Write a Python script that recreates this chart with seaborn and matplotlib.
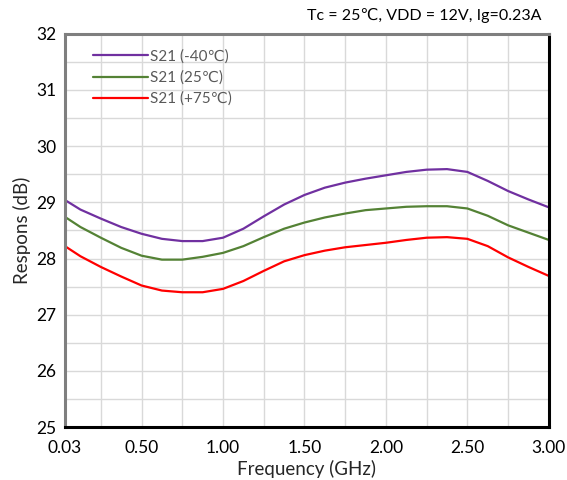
import matplotlib
matplotlib.use("Agg")
import matplotlib.pyplot as plt
from matplotlib.ticker import FixedLocator, NullFormatter
import seaborn as sns
import pandas as pd

freq = [0.03, 0.125, 0.25, 0.375, 0.5, 0.625, 0.75, 0.875, 1.0, 1.125, 1.25,
        1.375, 1.5, 1.625, 1.75, 1.875, 2.0, 2.125, 2.25, 2.375, 2.5, 2.625,
        2.75, 2.875, 3.0]
s21_m40 = [29.04, 28.87, 28.71, 28.56, 28.44, 28.35, 28.31, 28.31, 28.37, 28.53,
           28.75, 28.96, 29.13, 29.26, 29.35, 29.42, 29.48, 29.54, 29.58, 29.59,
           29.54, 29.38, 29.20, 29.05, 28.91]
s21_25 = [28.74, 28.56, 28.37, 28.19, 28.05, 27.98, 27.98, 28.03, 28.10, 28.22,
          28.38, 28.53, 28.64, 28.73, 28.80, 28.86, 28.89, 28.92, 28.93, 28.93,
          28.89, 28.76, 28.59, 28.46, 28.33]
s21_75 = [28.22, 28.04, 27.85, 27.68, 27.52, 27.43, 27.40, 27.40, 27.46, 27.60,
          27.78, 27.95, 28.06, 28.14, 28.20, 28.24, 28.28, 28.33, 28.37, 28.38,
          28.35, 28.22, 28.02, 27.85, 27.69]
series_names = ["S21 (-40℃)", "S21 (25℃)", "S21 (+75℃)"]
colors = ["#7030A0", "#548235", "#FF0000"]
x_ticks = [0.03, 0.5, 1.0, 1.5, 2.0, 2.5, 3.0]
x_tick_labels = ["0.03", "0.50", "1.00", "1.50", "2.00", "2.50", "3.00"]
y_ticks = [25, 26, 27, 28, 29, 30, 31, 32]

df = pd.concat([
    pd.DataFrame({"freq": freq, "val": v, "series": n})
    for v, n in zip([s21_m40, s21_25, s21_75], series_names)
])

sns.set_theme(style="white")
plt.rcParams["font.family"] = ["Lato", "DejaVu Sans"]

fig = plt.figure(figsize=(5.67, 4.8), dpi=100)
ax = fig.add_axes([0.1146, 0.110, 0.968 - 0.1146, 0.930 - 0.110])

sns.lineplot(data=df, x="freq", y="val", hue="series", hue_order=series_names,
             palette=colors, linewidth=1.6, ax=ax, sort=True)
for ln in ax.lines:
    ln.set_solid_joinstyle("round")

ax.set_xlim(0.03, 3.0)
ax.set_ylim(25, 32)
ax.xaxis.set_major_locator(FixedLocator(x_ticks))
ax.set_xticklabels(x_tick_labels)
ax.xaxis.set_minor_locator(FixedLocator([0.25, 0.75, 1.25, 1.75, 2.25, 2.75]))
ax.yaxis.set_major_locator(FixedLocator(y_ticks))
ax.yaxis.set_minor_locator(FixedLocator([25.5 + i for i in range(7)]))
ax.xaxis.set_minor_formatter(NullFormatter())
ax.yaxis.set_minor_formatter(NullFormatter())
ax.grid(True, which="both", color="#D9D9D9", linewidth=1.0, linestyle="-")
ax.set_axisbelow(True)
ax.tick_params(which="both", length=0, labelsize=12.5, colors="black")
ax.tick_params(axis="x", pad=9)
ax.tick_params(axis="y", pad=6)

for side in ["left", "top"]:
    ax.spines[side].set_color("#7F7F7F")
    ax.spines[side].set_linewidth(2.2)
for side in ["right", "bottom"]:
    ax.spines[side].set_color("black")
    ax.spines[side].set_linewidth(2.2)

ax.set_xlabel("Frequency (GHz)", fontsize=13.5, labelpad=3)
ax.set_ylabel("Respons (dB)", fontsize=13.5, labelpad=4)

leg = ax.legend(loc="upper left", bbox_to_anchor=(0.035, 0.987), frameon=False,
                fontsize=11, handlelength=3.6, handletextpad=0.15,
                labelspacing=0.45, title=None, borderaxespad=0.3)
for t in leg.get_texts():
    t.set_color("#595959")

fig.text(0.955, 0.968, "Tc = 25℃, VDD = 12V, Ig=0.23A", ha="right", va="center",
         fontsize=11.5, color="black")

fig.savefig("out.png", dpi=100)
